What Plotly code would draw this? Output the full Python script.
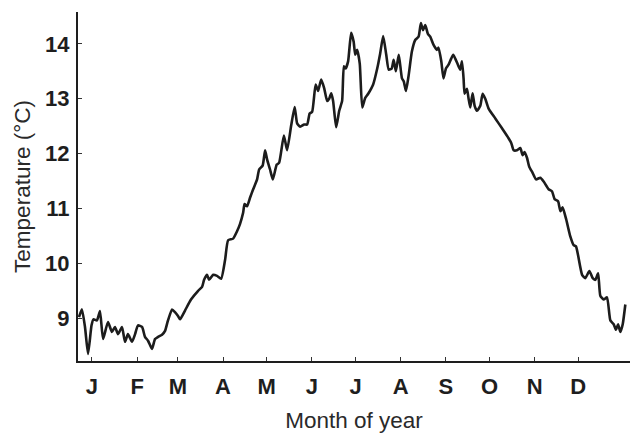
import plotly.graph_objects as go

# Day of year (negative = late December of previous year) and temperature (°C)
day = [-7.9, -5.9, -3.8, -1.7, 0.7, 2.0, 4.4, 6.5, 8.6, 12.0, 14.7, 16.8, 18.9, 21.6, 23.7, 25.7, 28.5,
       30.6, 32.6, 35.4, 37.4, 39.5, 42.2, 44.3, 46.4, 49.1, 51.2, 53.2, 56.0, 58.0, 60.1, 61.5, 64.9,
       69.0, 73.9, 76.6, 78.0, 80.0, 81.4, 84.2, 86.9, 89.7, 92.4, 94.5, 97.9, 100.7, 102.7, 104.8,
       105.8, 107.5, 109.6, 111.7, 114.4, 115.8, 118.2, 119.9, 121.3, 123.3, 125.2, 127.9, 129.5,
       132.8, 135.0, 137.8, 140.2, 141.9, 144.0, 146.7, 148.8, 150.5, 152.2, 154.6, 156.3, 158.4,
       160.5, 162.5, 163.9, 165.3, 166.6, 168.7, 170.8, 172.8, 174.0, 175.2, 176.9, 179.0, 180.7,
       181.8, 183.1, 184.9, 186.6, 188.6, 190.7, 194.1, 196.9, 198.9, 201.0, 203.1, 204.8, 206.8,
       208.2, 209.7, 211.7, 213.9, 215.1, 216.6, 218.4, 220.7, 223.0, 225.3, 226.9, 228.3, 229.9,
       231.7, 233.3, 235.6, 237.9, 239.0, 240.9, 242.4, 244.1, 245.9, 247.7, 249.1, 250.5, 252.3,
       253.9, 255.1, 256.2, 256.9, 258.5, 259.6, 260.8, 262.4, 263.8, 265.4, 267.7, 269.3, 271.1,
       273.4, 278.0, 282.6, 287.1, 289.0, 290.6, 292.9, 295.2, 296.7, 298.1, 299.8, 301.3, 303.6,
       306.0, 308.9, 311.2, 314.6, 317.0, 318.7, 321.1, 322.7, 324.2, 326.6, 329.5, 331.8, 333.4,
       334.8, 337.6, 339.8, 342.6, 344.9, 346.7, 348.6, 350.1, 352.4, 354.7, 357.0, 359.3, 360.9,
       362.3, 363.9, 365.5, 367.3]
temp = [9.02, 9.16, 8.84, 8.35, 8.87, 8.98, 8.96, 9.13, 8.62, 8.93, 8.75, 8.84, 8.71, 8.84, 8.57, 8.71,
        8.57, 8.71, 8.87, 8.84, 8.66, 8.59, 8.44, 8.62, 8.66, 8.70, 8.77, 8.96, 9.16, 9.11, 9.04, 8.98,
        9.14, 9.34, 9.50, 9.57, 9.70, 9.79, 9.70, 9.79, 9.77, 9.72, 10.06, 10.42, 10.45, 10.59, 10.72,
        10.92, 11.08, 11.04, 11.20, 11.35, 11.53, 11.71, 11.78, 12.06, 11.89, 11.71, 11.53, 11.80,
        11.83, 12.33, 12.06, 12.51, 12.85, 12.55, 12.49, 12.53, 12.53, 12.73, 12.76, 13.26, 13.14,
        13.35, 13.19, 12.96, 13.00, 13.10, 12.96, 12.48, 12.78, 12.96, 13.59, 13.55, 13.68, 14.20,
        14.04, 13.80, 13.89, 13.64, 12.84, 13.01, 13.09, 13.26, 13.55, 13.82, 14.14, 13.80, 13.53,
        13.55, 13.71, 13.50, 13.80, 13.37, 13.32, 13.14, 13.41, 13.86, 14.07, 14.13, 14.38, 14.25,
        14.34, 14.18, 14.13, 13.98, 13.89, 13.93, 13.68, 13.37, 13.55, 13.62, 13.73, 13.80, 13.73,
        13.62, 13.53, 13.68, 13.37, 13.09, 13.18, 13.01, 12.84, 13.10, 12.87, 12.78, 12.87, 13.09,
        13.00, 12.82, 12.64, 12.46, 12.28, 12.19, 12.06, 12.06, 12.10, 11.97, 12.03, 11.92, 11.76,
        11.65, 11.53, 11.56, 11.49, 11.35, 11.31, 11.17, 11.13, 10.95, 11.02, 10.81, 10.49, 10.33,
        10.31, 10.15, 9.79, 9.73, 9.86, 9.73, 9.70, 9.82, 9.41, 9.34, 9.38, 8.96, 8.89, 8.79, 8.89,
        8.75, 8.89, 9.25]

month_start = [1, 32, 60, 91, 121, 152, 182, 213, 244, 274, 305, 335]
month_labels = ["J", "F", "M", "A", "M", "J", "J", "A", "S", "O", "N", "D"]
y_ticks = [9, 10, 11, 12, 13, 14]

fig = go.Figure()
fig.add_trace(go.Scatter(x=day, y=temp, mode="lines",
                         line=dict(color="#1c1c1c", width=2.6, shape="spline", smoothing=0.5),
                         hoverinfo="skip", showlegend=False))

font_ticks = dict(family="Liberation Sans, Arial, sans-serif", size=22, color="#1e1e1e", weight="bold")
font_title = dict(family="Liberation Sans, Arial, sans-serif", size=22.5, color="#2a2a2a")

fig.update_layout(
    width=635, height=434,
    margin=dict(l=78, r=5, t=12, b=69),
    paper_bgcolor="white", plot_bgcolor="white",
    xaxis=dict(range=[-8.6, 370.5], tickvals=month_start, ticktext=month_labels,
               ticks="inside", ticklen=4, tickwidth=1, tickcolor="#333",
               showline=True, linecolor="#1e1e1e", linewidth=2, showgrid=False, zeroline=False,
               tickfont=font_ticks, ticklabelstandoff=5,
               title=dict(text="Month of year", font=font_title, standoff=14)),
    yaxis=dict(range=[8.22, 14.58], tickvals=y_ticks,
               ticks="inside", ticklen=4, tickwidth=1, tickcolor="#333",
               showline=True, linecolor="#1e1e1e", linewidth=2, showgrid=False, zeroline=False,
               tickfont=font_ticks, ticklabelstandoff=2,
               title=dict(text="Temperature (°C)", font=font_title, standoff=8)),
)

fig.write_html("out.html")
